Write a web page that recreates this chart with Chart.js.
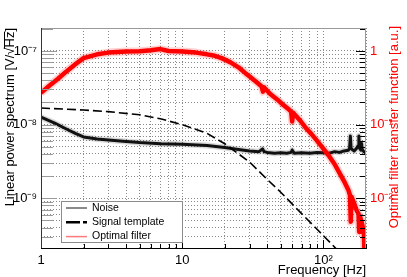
<!DOCTYPE html>
<html lang="en">
<head>
<meta charset="UTF-8">
<title>Noise, signal template and optimal filter</title>
<script src="https://cdn.jsdelivr.net/npm/chart.js"></script>
<style>
    body { margin: 0; background: white; }
    #wrap { position: relative; width: 407px; height: 277px; }
</style>
</head>
<body>
<div id="wrap"><canvas id="psdChart"></canvas></div>
<script>
    // series names (legend order)
    const seriesNames = ['Noise', 'Signal template', 'Optimal filter'];

    // noise linear spectrum [V/sqrt(Hz)]
    const noiseFreq = [1, 1.25, 1.5, 1.75, 2, 2.5, 3, 4, 5, 7, 10, 15, 20, 25, 30, 35, 37, 38, 40, 45,
        50, 55, 59, 60, 62, 70, 80, 90, 100, 110, 120, 130, 140, 150, 153, 155, 157, 165, 172, 176,
        178, 180, 184, 186, 188, 193, 200];
    const noiseAmp = [1.26e-8, 1.05e-8, 8.8e-9, 7.6e-9, 6.8e-9, 6.4e-9, 6.2e-9, 5.9e-9, 5.7e-9, 5.5e-9,
        5.4e-9, 5.2e-9, 4.9e-9, 4.6e-9, 4.4e-9, 4.3e-9, 4.7e-9, 4.3e-9, 4.2e-9, 4.1e-9,
        4.15e-9, 4.1e-9, 4.2e-9, 4.5e-9, 4.1e-9, 4.15e-9, 4.1e-9, 4.2e-9, 4.15e-9, 4.1e-9,
        4.3e-9, 4.2e-9, 4.4e-9, 4.5e-9, 4.8e-9, 7.0e-9, 4.7e-9, 4.4e-9, 4.8e-9, 5.2e-9,
        7.0e-9, 4.8e-9, 4.5e-9, 5.6e-9, 4.6e-9, 4.3e-9, 4.1e-9];

    // signal template [V/sqrt(Hz)]
    const templateFreq = [1, 2, 3, 5, 7, 10, 15, 20, 30, 40, 50, 70, 100, 130];
    const templateAmp = [1.68e-8, 1.58e-8, 1.5e-8, 1.36e-8, 1.2e-8, 1.0e-8, 7.6e-9, 5.5e-9, 3.1e-9,
        1.8e-9, 1.2e-9, 6.2e-10, 3.1e-10, 1.85e-10];

    // optimal filter transfer function [a.u.]
    const filterFreq = [1, 1.15, 1.32, 1.5, 1.75, 2, 2.5, 3, 4, 5, 6, 7, 8, 10, 12.5, 15, 17, 19, 22, 25,
        28, 30, 34, 36.5, 37.3, 38, 42, 47, 52, 57, 59, 60, 61, 68, 75, 82, 89, 100, 110, 120,
        130, 140, 150, 154, 156, 158, 165, 172, 177, 179, 181, 186, 190, 193, 195, 197, 200];
    const filterGain = [0.27, 0.34, 0.42, 0.52, 0.66, 0.8, 0.9, 0.95, 0.98, 0.99, 1.02, 1.06, 1.0, 0.98, 0.95,
        0.9, 0.86, 0.8, 0.7, 0.6, 0.5, 0.45, 0.37, 0.33, 0.28, 0.32, 0.26, 0.22, 0.185, 0.16,
        0.15, 0.11, 0.145, 0.115, 0.09, 0.075, 0.062, 0.047, 0.037, 0.029, 0.022, 0.017, 0.013, 0.011, 0.0048,
        0.0105, 0.0085, 0.0068, 0.0062, 0.0035, 0.0058, 0.0048, 0.004, 0.0035, 0.0019, 0.003, 0.0025];

    // labelled ticks
    const freqTickValues = [1, 10, 100];
    const freqTickLabels = ['1', '10', '10²'];
    const psdTickValues = [1e-9, 1e-8, 1e-7];
    const psdTickLabels = ['10⁻⁹', '10⁻⁸', '10⁻⁷'];
    const gainTickValues = [0.01, 0.1, 1];
    const gainTickLabels = ['10⁻²', '10⁻¹', '1'];

    const xTitle = 'Frequency [Hz]';
    const yTitle = 'Linear power spectrum [V/√Hz]';
    const y2Title = 'Optimal filter transfer function [a.u.]';

    const FONT = "'Liberation Sans', Arial, sans-serif";
    Chart.defaults.font.family = FONT;
    Chart.defaults.font.size = 13;

    function pts(xs, ys) { return xs.map((x, i) => ({ x: x, y: ys[i] })); }

    // 1..9 x 10^n between lo and hi
    function logTicks(lo, hi) {
        const out = [];
        for (let e = Math.floor(Math.log10(lo)); e <= Math.ceil(Math.log10(hi)); e++) {
            for (let m = 1; m < 10; m++) {
                const v = m * Math.pow(10, e);
                if (v >= lo * 0.999 && v <= hi * 1.001) out.push(v);
            }
        }
        return out;
    }
    function isDecade(v) {
        const l = Math.log10(v);
        return Math.abs(l - Math.round(l)) < 1e-6;
    }
    function labelFor(v, vals, labels) {
        const i = vals.findIndex(t => Math.abs(t - v) / t < 1e-6);
        return i >= 0 ? labels[i] : '';
    }

    const xMin = 1, xMax = 200;
    const yMin = 2.05e-10, yMax = 2.05e-7;
    const y2Min = 2.05e-3, y2Max = 2.05;

    // frame, inward tick marks, titles and legend
    const decorations = {
        id: 'decorations',
        afterDatasetsDraw(chart) {
            const { ctx, chartArea: a, scales } = chart;
            ctx.save();
            ctx.lineWidth = 1;
            // bottom ticks
            ctx.strokeStyle = '#000';
            scales.x.ticks.forEach(t => {
                const px = Math.round(scales.x.getPixelForValue(t.value)) + 0.5;
                const len = isDecade(t.value) ? 9 : 5;
                ctx.beginPath(); ctx.moveTo(px, a.bottom); ctx.lineTo(px, a.bottom - len); ctx.stroke();
            });
            // left ticks
            ctx.strokeStyle = '#9a9a9a';
            scales.y.ticks.forEach(t => {
                const py = Math.round(scales.y.getPixelForValue(t.value)) + 0.5;
                const len = isDecade(t.value) ? 16 : 12;
                ctx.beginPath(); ctx.moveTo(a.left, py); ctx.lineTo(a.left + len, py); ctx.stroke();
            });
            // right ticks
            ctx.strokeStyle = '#000';
            scales.y2.ticks.forEach(t => {
                const py = Math.round(scales.y2.getPixelForValue(t.value)) + 0.5;
                const len = isDecade(t.value) ? 10 : 6;
                ctx.beginPath(); ctx.moveTo(a.right, py); ctx.lineTo(a.right - len, py); ctx.stroke();
            });
            // frame
            ctx.strokeStyle = '#999';
            ctx.beginPath(); ctx.moveTo(a.left, a.top + 0.5); ctx.lineTo(a.right, a.top + 0.5); ctx.stroke();
            ctx.beginPath(); ctx.moveTo(a.right - 0.5, a.top); ctx.lineTo(a.right - 0.5, a.bottom); ctx.stroke();
            ctx.strokeStyle = '#333';
            ctx.beginPath(); ctx.moveTo(a.left + 0.5, a.top); ctx.lineTo(a.left + 0.5, a.bottom); ctx.stroke();
            ctx.strokeStyle = '#000';
            ctx.beginPath(); ctx.moveTo(a.left, a.bottom - 0.5); ctx.lineTo(a.right, a.bottom - 0.5); ctx.stroke();
            ctx.restore();
        },
        afterDraw(chart) {
            const { ctx, chartArea: a } = chart;
            ctx.save();
            ctx.font = '13px ' + FONT;
            ctx.textBaseline = 'middle';

            // x title
            ctx.fillStyle = '#000';
            ctx.textAlign = 'right';
            ctx.fillText(xTitle, a.right, 270);

            // left title, with a bar over Hz
            ctx.save();
            ctx.translate(10, a.top);
            ctx.rotate(-Math.PI / 2);
            ctx.textAlign = 'right';
            ctx.fillText(yTitle, 0, 0);
            const wEnd = ctx.measureText('Hz]').width;
            const wBr = ctx.measureText(']').width;
            ctx.strokeStyle = '#000';
            ctx.lineWidth = 1;
            ctx.beginPath(); ctx.moveTo(-wEnd - 1, -5.5); ctx.lineTo(-wBr, -5.5); ctx.stroke();
            ctx.restore();

            // right title
            ctx.save();
            ctx.translate(394, a.top - 2);
            ctx.rotate(-Math.PI / 2);
            ctx.textAlign = 'right';
            ctx.fillStyle = '#f00';
            ctx.fillText(y2Title, 0, 0);
            ctx.restore();

            // legend box
            const lx = 61, ly = 201, lw = 122, lh = 42;
            ctx.fillStyle = '#fff';
            ctx.fillRect(lx, ly, lw, lh);
            ctx.strokeStyle = '#8c8c8c';
            ctx.lineWidth = 1;
            ctx.strokeRect(lx + 0.5, ly + 0.5, lw - 1, lh - 1);
            const styles = [
                { color: '#8a8a8a', width: 2, dash: [] },
                { color: '#000', width: 2.5, dash: [14, 3, 5, 3] },
                { color: '#ff7a7a', width: 1.5, dash: [] }
            ];
            ctx.font = '10.5px ' + FONT;
            ctx.textAlign = 'left';
            seriesNames.forEach((name, i) => {
                const yy = 208 + i * 14.3;
                const s = styles[i];
                ctx.strokeStyle = s.color;
                ctx.lineWidth = s.width;
                ctx.setLineDash(s.dash);
                ctx.beginPath(); ctx.moveTo(66, yy); ctx.lineTo(87, yy); ctx.stroke();
                ctx.setLineDash([]);
                ctx.fillStyle = '#000';
                ctx.fillText(name, 92, yy);
            });
            ctx.restore();
        }
    };

    const common = { pointRadius: 0, tension: 0, fill: false, clip: 0, borderJoinStyle: 'round' };

    new Chart(document.getElementById('psdChart'), {
        type: 'line',
        data: {
            datasets: [
                Object.assign({ label: seriesNames[2], data: pts(filterFreq, filterGain), yAxisID: 'y2',
                    borderColor: '#ff0000', borderWidth: 4.5, order: 0 }, common),
                Object.assign({ label: seriesNames[2] + ' halo', data: pts(filterFreq, filterGain), yAxisID: 'y2',
                    borderColor: 'rgba(255,0,0,0.18)', borderWidth: 8, order: 1 }, common),
                Object.assign({ label: seriesNames[1], data: pts(templateFreq, templateAmp), yAxisID: 'y',
                    borderColor: '#000', borderWidth: 1.6, borderDash: [9, 4], order: 2 }, common),
                Object.assign({ label: seriesNames[0], data: pts(noiseFreq, noiseAmp), yAxisID: 'y',
                    borderColor: '#111', borderWidth: 3, order: 3 }, common),
                Object.assign({ label: seriesNames[0] + ' halo', data: pts(noiseFreq, noiseAmp), yAxisID: 'y',
                    borderColor: 'rgba(0,0,0,0.15)', borderWidth: 6, order: 4 }, common)
            ]
        },
        options: {
            responsive: true,
            maintainAspectRatio: false,
            animation: false,
            layout: { padding: { top: 28, left: 0, right: 0, bottom: 0 } },
            plugins: { legend: { display: false }, tooltip: { enabled: false } },
            scales: {
                x: {
                    type: 'logarithmic', position: 'bottom', min: xMin, max: xMax,
                    afterBuildTicks: s => { s.ticks = logTicks(xMin, xMax).map(v => ({ value: v })); },
                    afterFit: s => { s.height = 28; },
                    grid: { color: '#8a8a8a', lineWidth: 1, drawTicks: false },
                    border: { display: false, dash: [1, 2] },
                    ticks: { autoSkip: false, maxRotation: 0, padding: 4, color: '#000',
                        callback: v => labelFor(v, freqTickValues, freqTickLabels) }
                },
                y: {
                    type: 'logarithmic', position: 'left', min: yMin, max: yMax,
                    afterBuildTicks: s => { s.ticks = logTicks(yMin, yMax).map(v => ({ value: v })); },
                    afterFit: s => { s.width = 41; },
                    grid: { color: '#8a8a8a', lineWidth: 1, drawTicks: false },
                    border: { display: false, dash: [1, 2] },
                    ticks: { autoSkip: false, padding: 4, color: '#000',
                        callback: v => labelFor(v, psdTickValues, psdTickLabels) }
                },
                y2: {
                    type: 'logarithmic', position: 'right', min: y2Min, max: y2Max,
                    afterBuildTicks: s => { s.ticks = logTicks(y2Min, y2Max).map(v => ({ value: v })); },
                    afterFit: s => { s.width = 41; },
                    grid: { drawOnChartArea: false, drawTicks: false },
                    border: { display: false },
                    ticks: { autoSkip: false, padding: 4, color: '#f00',
                        callback: v => labelFor(v, gainTickValues, gainTickLabels) }
                }
            }
        },
        plugins: [decorations]
    });
</script>
</body>
</html>
